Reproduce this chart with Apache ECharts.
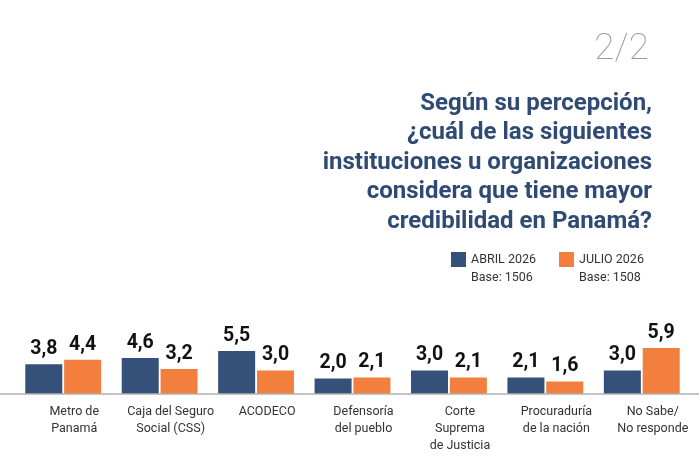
<!DOCTYPE html>
<html>
<head>
<meta charset="utf-8">
<title>Credibilidad instituciones</title>
<style>
html, body { margin:0; padding:0; width:100%; height:100%; background:#fff; }
#main { width:699px; height:466px; }
</style>
</head>
<body>
<div id="main"></div>
<script src="https://cdn.jsdelivr.net/npm/echarts@6/dist/echarts.min.js"></script>
<script>
// categorias y valores (%)
var categorias = ['Metro de\nPanamá', 'Caja del Seguro\nSocial (CSS)', 'ACODECO', 'Defensoría\ndel pueblo', 'Corte\nSuprema\nde Justicia', 'Procuraduría\nde la nación', 'No Sabe/\nNo responde'];
var abril2026 = [3.8, 4.6, 5.5, 2.0, 3.0, 2.1, 3.0];
var julio2026 = [4.4, 3.2, 3.0, 2.1, 2.1, 1.6, 5.9];
var bases = ['Base: 1506', 'Base: 1508'];

var azul = '#35517a';
var naranja = '#f27f3d';
var fuente = 'Roboto';

var myChart = echarts.init(document.getElementById('main'));

function etiqueta(p) {
    return p.value.toFixed(1).replace('.', ',');
}

var pregunta = 'Según su percepción,\n¿cuál de las siguientes\ninstituciones u organizaciones\nconsidera que tiene mayor\ncredibilidad en Panamá?';

var options = {
    backgroundColor: '#fff',
    animation: false,
    title: {
        text: '2/2',
        right: 50, top: 31,
        padding: 0,
        textStyle: { fontFamily: fuente, fontWeight: 100, fontSize: 37, color: '#9a9a9a' }
    },
    legend: {
        left: 451, top: 252,
        padding: 0,
        itemWidth: 15, itemHeight: 15,
        itemGap: 23,
        icon: 'rect',
        textStyle: { fontFamily: fuente, fontSize: 12.5, color: '#333' },
        data: ['ABRIL 2026', 'JULIO 2026']
    },
    graphic: [
        {
            type: 'text', x: 652, y: 89,
            style: { text: pregunta, align: 'right', textAlign: 'right', font: 'bold 24px Roboto', lineHeight: 29.5, fill: '#2f4b74' }
        },
        { type: 'text', left: 471, top: 271, style: { text: bases[0], font: '12.5px Roboto', fill: '#333' } },
        { type: 'text', left: 579, top: 271, style: { text: bases[1], font: '12.5px Roboto', fill: '#333' } },
        { type: 'line', shape: { x1: 0, y1: 394, x2: 699, y2: 394 }, style: { stroke: '#b0b0b0', lineWidth: 1.5 }, z: 10 }
    ],
    grid: { left: 15, right: 9, top: 316, bottom: 72 },
    xAxis: {
        type: 'category',
        data: categorias,
        axisLine: { show: false },
        axisTick: { show: false },
        axisLabel: {
            interval: 0, margin: 9,
            fontFamily: fuente, fontSize: 12.5, lineHeight: 17, color: '#333',
            padding: [0, 0, 0, 22]
        }
    },
    yAxis: { type: 'value', min: 0, max: 10, show: false, splitLine: { show: false } },
    series: [
        {
            name: 'ABRIL 2026', type: 'bar', data: abril2026,
            barWidth: 37, barGap: '5%',
            itemStyle: { color: azul },
            label: { show: true, position: 'top', distance: 5, formatter: etiqueta, fontFamily: fuente, fontWeight: 'bold', fontSize: 19.5, color: '#111' }
        },
        {
            name: 'JULIO 2026', type: 'bar', data: julio2026,
            barWidth: 37, barGap: '5%',
            itemStyle: { color: naranja },
            label: { show: true, position: 'top', distance: 5, formatter: etiqueta, fontFamily: fuente, fontWeight: 'bold', fontSize: 19.5, color: '#111' }
        }
    ]
};

myChart.setOption(options);
</script>
</body>
</html>
